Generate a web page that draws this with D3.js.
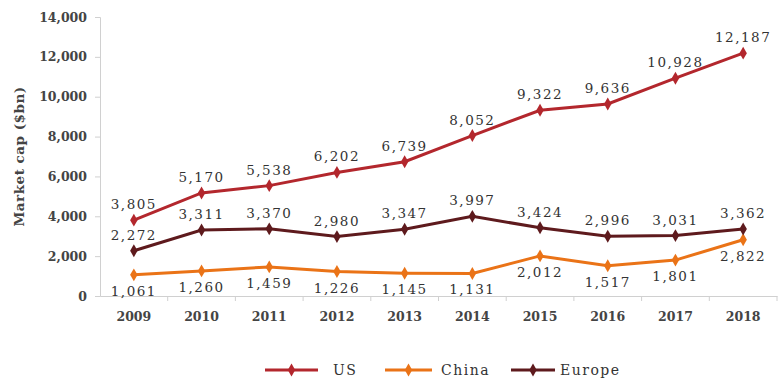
<!DOCTYPE html>
<html>
<head>
<meta charset="utf-8">
<script src="https://cdn.jsdelivr.net/npm/d3@7"></script>
<style>
  body { margin: 0; background: #fff; }
  svg text { font-family: "DejaVu Serif", "Liberation Serif", serif; }
</style>
</head>
<body>
<div id="chart"></div>
<script>
// chart data
var years = ["2009","2010","2011","2012","2013","2014","2015","2016","2017","2018"];
var usValues = [3805, 5170, 5538, 6202, 6739, 8052, 9322, 9636, 10928, 12187];
var chinaValues = [1061, 1260, 1459, 1226, 1145, 1131, 2012, 1517, 1801, 2822];
var europeValues = [2272, 3311, 3370, 2980, 3347, 3997, 3424, 2996, 3031, 3362];
var yTicks = [0, 2000, 4000, 6000, 8000, 10000, 12000, 14000];

function drawChart() {
    const width = 780, height = 385;
    const margin = {top: 17, right: 3, bottom: 89, left: 100};

    const svg = d3.select("#chart")
        .append("svg")
        .attr("width", width)
        .attr("height", height);

    const xScale = d3.scaleBand()
        .domain(years)
        .range([margin.left, width - margin.right]);

    const yScale = d3.scaleLinear()
        .domain([0, 14000])
        .range([height - margin.bottom, margin.top]);

    const series = [
        {name: "US", values: usValues, color: "#b3272d", labelPos: "above"},
        {name: "China", values: chinaValues, color: "#ea7317", labelPos: "below"},
        {name: "Europe", values: europeValues, color: "#5e1a1d", labelPos: "above"}
    ];

    // y axis
    const yAxis = svg.append("g")
        .attr("transform", `translate(${margin.left}, 0)`)
        .call(d3.axisLeft(yScale).tickValues(yTicks).tickSize(5).tickPadding(8)
            .tickFormat(d3.format(",")));
    yAxis.selectAll("text")
        .style("font-size", "12.5px")
        .style("font-weight", "bold")
        .attr("fill", "#444");
    yAxis.selectAll("line").attr("stroke", "#d0d0d0");
    yAxis.select(".domain").attr("stroke", "#d0d0d0");

    // x axis
    const xAxis = svg.append("g")
        .attr("transform", `translate(0, ${yScale(0)})`)
        .call(d3.axisBottom(xScale).tickSize(0).tickPadding(16));
    xAxis.select(".domain").attr("stroke", "#d0d0d0");
    xAxis.selectAll("text")
        .style("font-size", "12.5px")
        .style("font-weight", "bold")
        .attr("fill", "#444");
    // tick marks between categories
    svg.append("g").selectAll("line")
        .data(years)
        .enter()
        .append("line")
        .attr("x1", function(d) { return xScale(d) + xScale.step(); })
        .attr("x2", function(d) { return xScale(d) + xScale.step(); })
        .attr("y1", yScale(0))
        .attr("y2", yScale(0) + 5)
        .attr("stroke", "#d0d0d0");

    // y axis title
    svg.append("text")
        .attr("transform", `translate(24, ${(yScale(0) + yScale(14000)) / 2}) rotate(-90)`)
        .attr("text-anchor", "middle")
        .style("font-size", "13.5px")
        .style("letter-spacing", "0.5px")
        .style("font-weight", "bold")
        .attr("fill", "#444")
        .text("Market cap ($bn)");

    const cx = function(i) { return xScale(years[i]) + xScale.bandwidth() / 2; };
    const line = d3.line()
        .x(function(d, i) { return cx(i); })
        .y(function(d) { return yScale(d); });

    series.forEach(function(s) {
        svg.append("path")
            .datum(s.values)
            .attr("fill", "none")
            .attr("stroke", s.color)
            .attr("stroke-width", 3)
            .attr("d", line);

        svg.selectAll(".pt-" + s.name)
            .data(s.values)
            .enter()
            .append("path")
            .attr("class", "pt-" + s.name)
            .attr("transform", function(d, i) { return `translate(${cx(i)}, ${yScale(d)})`; })
            .attr("d", d3.symbol().type(d3.symbolDiamond).size(48))
            .attr("fill", s.color);

        svg.selectAll(".lbl-" + s.name)
            .data(s.values)
            .enter()
            .append("text")
            .attr("class", "lbl-" + s.name)
            .attr("x", function(d, i) { return cx(i); })
            .attr("y", function(d) { return s.labelPos == "above" ? yScale(d) - 11 : yScale(d) + 21; })
            .attr("text-anchor", "middle")
            .style("font-size", "13.5px")
            .style("letter-spacing", "1.5px")
            .attr("fill", "#333")
            .text(function(d) { return d3.format(",")(d); });
    });

    // legend
    const legendItems = [
        {x: 265, tx: 333},
        {x: 385, tx: 441},
        {x: 511, tx: 560}
    ];
    const legendLen = [53, 47, 44];
    series.forEach(function(s, i) {
        const lx = legendItems[i].x, ly = 370;
        svg.append("line")
            .attr("x1", lx).attr("x2", lx + legendLen[i])
            .attr("y1", ly).attr("y2", ly)
            .attr("stroke", s.color)
            .attr("stroke-width", 3);
        svg.append("path")
            .attr("transform", `translate(${lx + legendLen[i] / 2}, ${ly})`)
            .attr("d", d3.symbol().type(d3.symbolDiamond).size(48))
            .attr("fill", s.color);
        svg.append("text")
            .attr("x", legendItems[i].tx)
            .attr("y", ly + 5)
            .style("font-size", "14px")
            .style("letter-spacing", "1.5px")
            .attr("fill", "#333")
            .text(s.name);
    });
}

drawChart();
</script>
</body>
</html>
